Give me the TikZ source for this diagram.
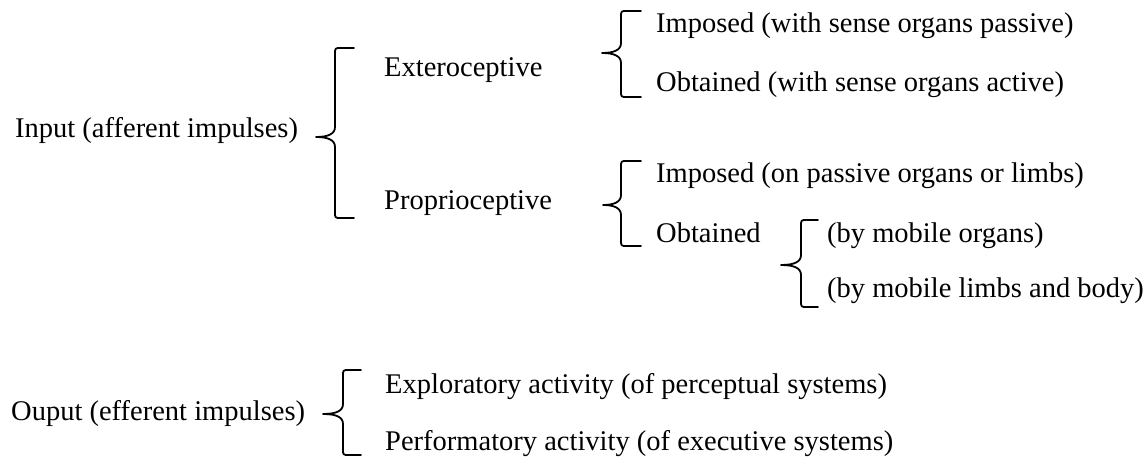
\documentclass[tikz,border=0pt]{standalone}
\usepackage{fontspec}
\setmainfont{Liberation Serif}
\newcommand{\mybrace}[7]{%
  % #1 name, #2 vertical x, #3 tick end x, #4 cusp x, #5 cusp y, #6 top y, #7 bottom y
  \coordinate (#1-top) at (#3,#6);
  \coordinate (#1-bot) at (#3,#7);
  \coordinate (#1-tip) at (#4,#5);
  \draw[bracestyle] (#1-top) -- (#2+6,#6) .. controls (#2,#6) .. (#2,#6+6)
    -- (#2,#5-10) .. controls (#2,#5-3) and (#2-7,#5) .. (#1-tip)
    .. controls (#2-7,#5) and (#2,#5+3) .. (#2,#5+10)
    -- (#2,#7-6) .. controls (#2,#7) .. (#2+6,#7) -- (#1-bot);
}
\begin{document}
\begin{tikzpicture}[x=1pt,y=-1pt,
  lbl/.style={anchor=base west,inner sep=0pt,font=\fontsize{28.5}{34}\selectfont,text=black},
  bracestyle/.style={draw=black,line width=1.8pt,line join=round,line cap=round}]
\useasboundingbox (0,0) rectangle (1148,457);
% labels
\node[lbl] (input) at (15,138) {Input (afferent impulses)};
\node[lbl] (extero) at (384,77) {Exteroceptive};
\node[lbl] (proprio) at (384,209) {Proprioceptive};
\node[lbl] (imp1) at (656,33) {Imposed (with sense organs passive)};
\node[lbl] (obt1) at (656,92) {Obtained (with sense organs active)};
\node[lbl] (imp2) at (656,183) {Imposed (on passive organs or limbs)};
\node[lbl] (obt2) at (656,242) {Obtained};
\node[lbl] (mob1) at (827,242) {(by mobile organs)};
\node[lbl] (mob2) at (827,297) {(by mobile limbs and body)};
\node[lbl] (output) at (11,420) {Ouput (efferent impulses)};
\node[lbl] (expl) at (385,393) {Exploratory activity (of perceptual systems)};
\node[lbl] (perf) at (385,450) {Performatory activity (of executive systems)};
% braces
\mybrace{b1}{335}{354}{316}{137}{48}{218}
\mybrace{b2}{621}{641}{602}{53}{11}{97}
\mybrace{b3}{621}{641}{603}{205}{161}{246}
\mybrace{b4}{801}{818}{781}{265}{220}{307}
\mybrace{b5}{343}{361}{323}{414}{370}{455}
\end{tikzpicture}
\end{document}
